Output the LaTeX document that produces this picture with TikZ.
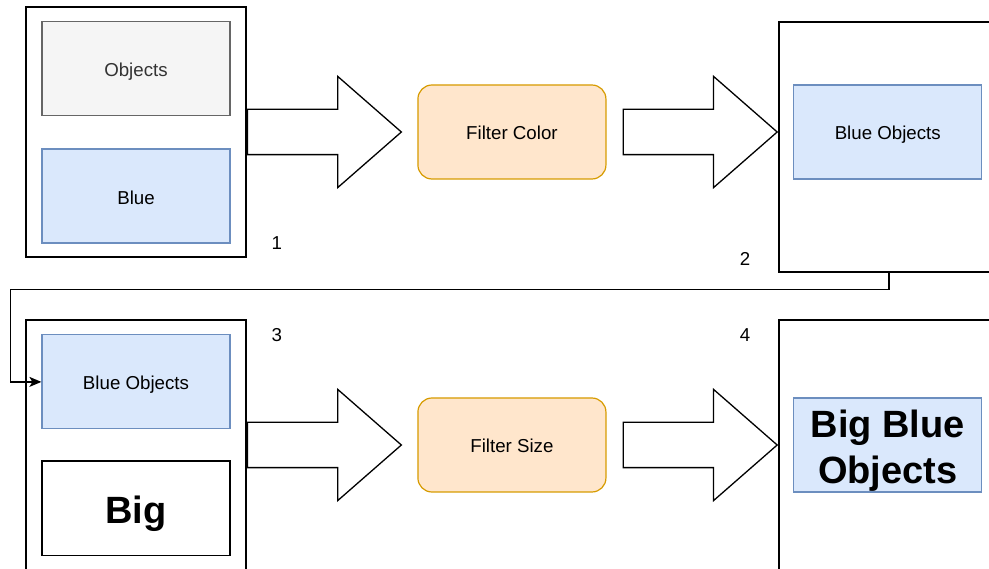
\documentclass[tikz,border=0pt]{standalone}
\usepackage{fontspec}
\setmainfont{Liberation Sans}
\usetikzlibrary{arrows.meta,positioning,shapes.arrows}
\definecolor{grayfill}  {HTML}{F5F5F5}
\definecolor{grayline}  {HTML}{666666}
\definecolor{graytext}  {HTML}{333333}
\definecolor{bluefill}  {HTML}{DAE8FC}
\definecolor{blueline}  {HTML}{6C8EBF}
\definecolor{orangefill}{HTML}{FFE6CC}
\definecolor{orangeline}{HTML}{D79B00}
\newcommand{\txt}{\fontsize{18.7}{22}\selectfont}
\newcommand{\bigtxt}{\fontsize{38}{46}\selectfont\bfseries}

\begin{document}
\begin{tikzpicture}[
  x=1pt,y=-1pt,
  >=Stealth,
  frame/.style   ={draw,line width=1.4pt,minimum width=220pt,
                   minimum height=250pt,inner sep=0pt},
  card/.style    ={draw,line width=1.2pt,minimum width=188pt,
                   minimum height=94pt,inner sep=0pt,font=\txt,align=center,
                   text height=16pt,text depth=0pt},
  graycard/.style={card,fill=grayfill,draw=grayline,text=graytext},
  bluecard/.style={card,fill=bluefill,draw=blueline},
  filt/.style    ={card,fill=orangefill,draw=orangeline,rounded corners=14pt},
  fat/.style     ={single arrow,draw,line width=1.3pt,fill=white,
                   minimum height=154pt,minimum width=110pt,
                   inner xsep=0pt,inner ysep=22pt,
                   single arrow head extend=33pt,
                   single arrow tip angle=82.3},
  num/.style     ={font=\txt,inner sep=0pt},
  link/.style    ={-{Stealth[length=12pt,width=10pt,inset=3pt]},line width=1.3pt},
]
\useasboundingbox (0,0) rectangle (989,569);
\clip (0,0) rectangle (989,569);

%% ── Row 1: colour filter ─────────────────────────────────────────────────────
\node[frame]    (box1) at (136,132) {};
\node[graycard] (obj)  [below=15pt of box1.north] {Objects};
\node[bluecard] (blue) [below=32pt of obj] {Blue};

\node[fat,anchor=tail] (a1) at (box1.east) {};
\node[filt]     (fcol) [right=15pt of a1.tip] {Filter Color};
\node[fat,anchor=tail] (a2) at ([xshift=16pt]fcol.east) {};

\node[frame,anchor=west,yshift=-15pt] (box2) at (a2.tip) {};
\node[bluecard] (bo2)  [right=15pt of a2.tip] {Blue Objects};

%% ── Row 2: size filter ───────────────────────────────────────────────────────
\node[frame]    (box3) at (136,445) {};
\node[bluecard] (bo3)  [below=15pt of box3.north] {Blue Objects};
\node[card]     (big)  [below=31pt of bo3,font=\bigtxt,text height=30pt] {Big};

\node[fat,anchor=tail] (a3) at (box3.east) {};
\node[filt]     (fsize)[right=15pt of a3.tip] {Filter Size};
\node[fat,anchor=tail] (a4) at ([xshift=16pt]fsize.east) {};

\node[frame,anchor=west] (box4) at (a4.tip) {};
\node[bluecard] (bbo)  [right=15pt of a4.tip,font=\bigtxt,
                        text height=76pt] {Big Blue\\Objects};

%% ── Step numbers ─────────────────────────────────────────────────────────────
\node[num] (n1) at ([xshift=30pt,yshift=15pt]box1.south east)  {1};
\node[num] (n2) at ([xshift=-33pt,yshift=14pt]box2.south west) {2};
\node[num] (n3) at ([xshift=30pt,yshift=-16pt]box3.north east) {3};
\node[num] (n4) at ([xshift=-33pt,yshift=-16pt]box4.north west){4};

%% ── Result of row 1 feeds row 2 ─────────────────────────────────────────────
\draw[link] (box2.south) -- ([yshift=-17pt]box2.south)
  -| ([xshift=-31pt]bo3.west) -- (bo3.west);

\end{tikzpicture}
\end{document}
